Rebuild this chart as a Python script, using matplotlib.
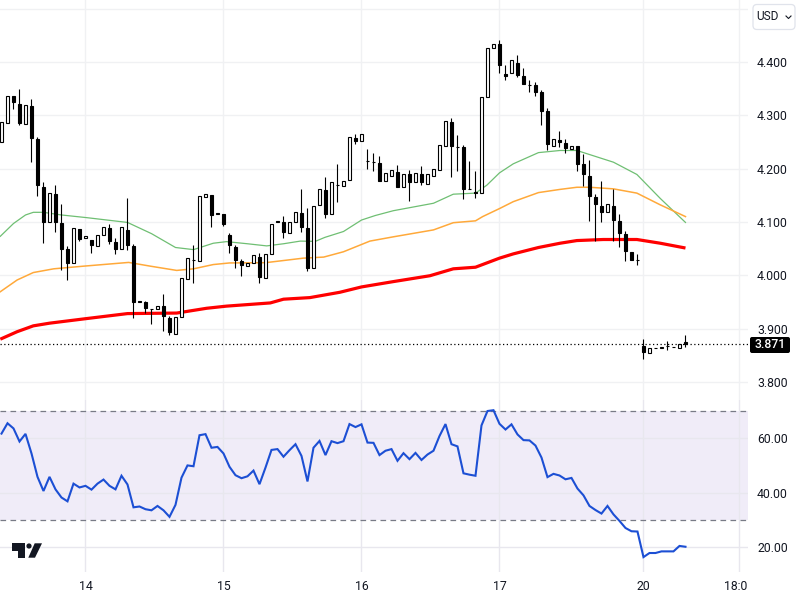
import matplotlib
matplotlib.use("Agg")
import matplotlib.pyplot as plt
from matplotlib.patches import FancyBboxPatch, Polygon, Circle
from matplotlib.transforms import Bbox, TransformedBbox

plt.rcParams['font.family'] = ['Roboto', 'DejaVu Sans']

# candles, one per bar
opens = [4.249, 4.286, 4.336, 4.322, 4.283, 4.317, 4.255, 4.165, 4.100, 4.152,
         4.098, 4.049, 4.022, 4.087, 4.069, 4.066, 4.055, 4.076, 4.089, 4.062,
         4.049, 4.085, 4.055, 3.951, 3.950, 3.937, 3.937, 3.942, 3.920, 3.890,
         3.922, 3.993, 4.028, 4.027, 4.147, 4.150, 4.116, 4.115, 4.075, 4.053,
         4.026, 4.018, 4.022, 4.035, 3.995, 4.039, 4.101, 4.100, 4.080, 4.099,
         4.117, 4.089, 4.013, 4.131, 4.160, 4.114, 4.170, 4.167, 4.178, 4.257,
         4.251, 4.215, 4.212, 4.210, 4.176, 4.187, 4.193, 4.165, 4.190, 4.174,
         4.189, 4.172, 4.187, 4.197, 4.242, 4.287, 4.241, 4.240, 4.162, 4.157,
         4.154, 4.334, 4.426, 4.433, 4.377, 4.379, 4.398, 4.374, 4.357, 4.357,
         4.344, 4.308, 4.242, 4.254, 4.248, 4.237, 4.242, 4.209, 4.186, 4.146,
         4.130, 4.118, 4.130, 4.102, 4.077, 4.043, 4.028, 3.867, 3.855, 3.863,
         3.863, 3.867, 3.865, 3.863, 3.874]
highs = [4.287, 4.336, 4.336, 4.349, 4.319, 4.331, 4.259, 4.174, 4.154, 4.169,
         4.134, 4.055, 4.088, 4.087, 4.073, 4.066, 4.075, 4.090, 4.096, 4.069,
         4.090, 4.145, 4.059, 3.951, 3.952, 3.937, 3.943, 3.964, 3.923, 3.921,
         3.994, 4.032, 4.057, 4.148, 4.152, 4.150, 4.116, 4.115, 4.080, 4.057,
         4.030, 4.022, 4.037, 4.041, 4.039, 4.097, 4.101, 4.111, 4.099, 4.119,
         4.162, 4.126, 4.129, 4.161, 4.184, 4.174, 4.208, 4.176, 4.259, 4.265,
         4.264, 4.237, 4.229, 4.223, 4.191, 4.197, 4.207, 4.189, 4.197, 4.191,
         4.205, 4.189, 4.199, 4.244, 4.289, 4.294, 4.263, 4.244, 4.214, 4.195,
         4.334, 4.426, 4.434, 4.442, 4.394, 4.403, 4.413, 4.389, 4.366, 4.362,
         4.347, 4.313, 4.255, 4.270, 4.255, 4.242, 4.242, 4.227, 4.216, 4.152,
         4.177, 4.133, 4.162, 4.115, 4.083, 4.043, 4.040, 3.881, 3.863, 3.863,
         3.866, 3.876, 3.865, 3.871, 3.888]
lows = [4.249, 4.286, 4.312, 4.281, 4.283, 4.213, 4.149, 4.061, 4.100, 4.082,
        4.010, 3.991, 4.022, 4.064, 4.069, 4.042, 4.055, 4.076, 4.059, 4.040,
        4.049, 4.047, 3.919, 3.950, 3.930, 3.908, 3.937, 3.896, 3.887, 3.890,
        3.922, 3.993, 3.986, 4.027, 4.147, 4.091, 4.114, 4.092, 4.042, 4.014,
        3.998, 4.018, 4.022, 3.986, 3.995, 4.039, 4.099, 4.070, 4.080, 4.099,
        4.082, 4.008, 4.013, 4.131, 4.108, 4.114, 4.137, 4.167, 4.178, 4.246,
        4.251, 4.200, 4.195, 4.177, 4.176, 4.187, 4.166, 4.165, 4.140, 4.174,
        4.170, 4.172, 4.187, 4.197, 4.242, 4.185, 4.196, 4.143, 4.162, 4.145,
        4.154, 4.334, 4.426, 4.379, 4.366, 4.379, 4.372, 4.359, 4.344, 4.337,
        4.282, 4.234, 4.242, 4.240, 4.230, 4.237, 4.196, 4.167, 4.102, 4.065,
        4.100, 4.118, 4.065, 4.052, 4.027, 4.029, 4.020, 3.843, 3.855, 3.863,
        3.863, 3.860, 3.865, 3.863, 3.866]
closes = [4.287, 4.336, 4.325, 4.286, 4.319, 4.257, 4.169, 4.100, 4.154, 4.100,
          4.049, 4.023, 4.088, 4.068, 4.073, 4.057, 4.075, 4.090, 4.064, 4.049,
          4.090, 4.057, 3.950, 3.950, 3.938, 3.937, 3.943, 3.923, 3.893, 3.921,
          3.994, 4.032, 4.028, 4.148, 4.152, 4.113, 4.114, 4.097, 4.057, 4.029,
          4.019, 4.022, 4.037, 3.997, 4.039, 4.097, 4.099, 4.082, 4.099, 4.119,
          4.090, 4.013, 4.129, 4.161, 4.115, 4.174, 4.170, 4.176, 4.259, 4.252,
          4.264, 4.215, 4.212, 4.177, 4.191, 4.197, 4.166, 4.189, 4.174, 4.191,
          4.175, 4.189, 4.199, 4.244, 4.289, 4.242, 4.241, 4.162, 4.162, 4.155,
          4.334, 4.426, 4.434, 4.395, 4.374, 4.403, 4.376, 4.359, 4.357, 4.344,
          4.309, 4.247, 4.255, 4.250, 4.239, 4.242, 4.209, 4.189, 4.149, 4.134,
          4.119, 4.133, 4.104, 4.080, 4.046, 4.029, 4.028, 3.856, 3.863, 3.863,
          3.866, 3.867, 3.865, 3.871, 3.871]

# moving averages, read at their corners (bar number, price)
green_x = [-0.2, 2, 4, 5.3, 7, 10, 14.2, 21, 25, 29, 32, 35.3, 37.5, 41, 44.2, 47, 49.8,
           52.3, 53.9, 57, 60, 62.3, 65.3, 72, 75.3, 79, 80.9, 83, 85.3, 89.5, 93.1,
           95.9, 102, 105.9, 109.8, 114]
green_y = [4.073, 4.097, 4.113, 4.118, 4.118, 4.113, 4.108, 4.099, 4.078, 4.052, 4.048,
           4.060, 4.063, 4.059, 4.055, 4.059, 4.064, 4.0635, 4.071, 4.082, 4.1035,
           4.112, 4.121, 4.135, 4.152, 4.154, 4.169, 4.192, 4.209, 4.230, 4.234,
           4.234, 4.212, 4.189, 4.144, 4.099]
orange_x = [-0.2, 2.6, 5.3, 8.7, 13.7, 21.2, 24.8, 29.2, 32, 35.3, 38, 44, 50.3, 53.7,
            57, 61.4, 65.3, 72, 75.3, 79, 80.2, 83, 85.3, 89.5, 93.1, 95.9, 98, 102,
            105.9, 109.8, 114]
orange_y = [3.969, 3.991, 4.005, 4.012, 4.017, 4.024, 4.017, 4.009, 4.012, 4.020, 4.023,
            4.0235, 4.032, 4.034, 4.044, 4.064, 4.072, 4.085, 4.0985, 4.102, 4.110,
            4.125, 4.138, 4.155, 4.161, 4.165, 4.165, 4.162, 4.154, 4.132, 4.110]
red_x = [-0.2, 2.6, 5.3, 8, 13.7, 21, 29.2, 34.2, 37.5, 44.8, 47, 51.4, 56.4, 60, 65.3,
         71.4, 75.3, 79, 83, 85.3, 89.5, 93.1, 95.9, 100.3, 105.9, 109.8, 114]
red_y = [3.880, 3.894, 3.905, 3.910, 3.918, 3.928, 3.929, 3.938, 3.942, 3.948, 3.955,
         3.958, 3.968, 3.978, 3.988, 3.999, 4.012, 4.015, 4.032, 4.040, 4.052, 4.060,
         4.065, 4.067, 4.067, 4.060, 4.051]

# RSI per bar
rsi = [61.8, 65.6, 63.7, 58.9, 61.7, 54.5, 45.9, 40.7, 45.9, 41.3,
       38.3, 36.9, 43.4, 42.0, 42.6, 41.2, 43.4, 44.9, 42.6, 41.3,
       46.3, 43.1, 34.7, 35.0, 34.0, 33.6, 35.2, 33.6, 31.2, 35.6,
       45.6, 50.1, 49.8, 61.2, 61.6, 56.6, 56.9, 54.5, 49.6, 46.5,
       45.4, 46.1, 48.2, 43.2, 49.3, 55.8, 56.1, 53.3, 55.7, 57.9,
       53.6, 44.2, 56.6, 59.1, 53.9, 59.0, 58.3, 59.0, 65.3, 64.2,
       65.2, 58.5, 58.4, 53.9, 55.5, 56.1, 51.8, 54.6, 52.4, 54.7,
       52.1, 54.1, 55.5, 60.9, 65.3, 57.9, 57.1, 47.2, 46.7, 46.3,
       64.8, 70.1, 70.4, 65.4, 63.3, 65.2, 61.5, 59.4, 59.3, 57.4,
       53.0, 45.8, 47.0, 46.4, 45.0, 45.5, 41.6, 39.1, 35.2, 33.7,
       32.4, 35.2, 32.1, 29.7, 27.1, 25.9, 25.8, 16.4, 17.9, 17.9,
       18.5, 18.5, 18.5, 20.5, 20.2]

time_ticks = [14, 37, 60, 83, 107, 123]
time_labels = ["14", "15", "16", "17", "20", "18:00"]
price_ticks = [3.8, 3.9, 4.0, 4.1, 4.2, 4.3, 4.4, 4.5]
price_labels = ["3.800", "3.900", "4.000", "4.100", "4.200", "4.300", "4.400", ""]
rsi_ticks = [20, 40, 60]
rsi_labels = ["20.00", "40.00", "60.00"]
last_price = 3.871

TEXT = "#131722"
GRID = "#f0f1f3"

fig = plt.figure(figsize=(8, 6), dpi=100)
ax = fig.add_axes([0, 1 - 400 / 600, 748 / 800, 400 / 600])
ax2 = fig.add_axes([0, 1 - 572 / 600, 748 / 800, 172 / 600])

# Candles
bars = range(len(opens))
ax.vlines(bars, lows, highs, color="black", lw=0.8, zorder=4)
for i in bars:
    up = closes[i] > opens[i]
    ax.bar(i, closes[i] - opens[i], bottom=opens[i], width=0.62,
           facecolor="white" if up else "black", edgecolor="black", lw=0.8, zorder=5)

# Moving averages
ax.plot(green_x, green_y, color="#6fbf73", lw=0.9, zorder=3)
ax.plot(orange_x, orange_y, color="#ffa93a", lw=1.1, zorder=3)
ax.plot(red_x, red_y, color="#ff0000", lw=2.3, zorder=3, solid_capstyle="butt")
ax.axhline(last_price, color="black", lw=0.9, ls=(0, (1, 2)), zorder=6)

ax.set_xlim(-0.25, 124.42)
ax.set_ylim(3.7659, 4.5163)
ax.set_yticks(price_ticks)
ax.set_yticklabels(price_labels)

# RSI pane
ax2.axhspan(30, 70, color="#f0ecf8", lw=0, zorder=0.5)
ax2.axhline(70, color="#787b86", lw=0.9, ls=(0, (4.5, 3.5)), zorder=2)
ax2.axhline(30, color="#787b86", lw=0.9, ls=(0, (4.5, 3.5)), zorder=2)
ax2.plot(bars, rsi, color="#1c4fd4", lw=1.5, zorder=3, solid_joinstyle="miter")
ax2.set_xlim(-0.25, 124.42)
ax2.set_ylim(10.92, 74.15)
ax2.set_yticks(rsi_ticks)
ax2.set_yticklabels(rsi_labels)

for a in (ax, ax2):
    for s in a.spines.values():
        s.set_visible(False)
    a.patch.set_alpha(0)
    a.set_xticks(time_ticks)
    a.grid(True, color=GRID, lw=1.0, zorder=1)
    a.set_axisbelow(True)
    a.yaxis.tick_right()
    a.tick_params(axis="y", length=0, pad=6.5, labelsize=8.8, labelcolor=TEXT)
    for lab in a.get_yticklabels():
        lab.set_ha("left")
ax2.grid(True, color="#e8e7ee", lw=1.0, zorder=1)
ax.tick_params(axis="x", length=0, labelbottom=False)
ax2.set_xticklabels(time_labels)
ax2.tick_params(axis="x", length=0, pad=5.5, labelsize=8.8, labelcolor=TEXT)

# the last time label gets cut at the edge of the chart area
clip = TransformedBbox(Bbox([[0, 0], [748 / 800, 1]]), fig.transFigure)
for lab in ax2.get_xticklabels():
    lab.set_clip_box(clip)
    lab.set_clip_on(True)

# Overlay in pixels for the button, price tag and logo
over = fig.add_axes([0, 0, 1, 1])
over.set_xlim(0, 800)
over.set_ylim(600, 0)
over.axis("off")
over.patch.set_alpha(0)

over.add_patch(FancyBboxPatch((756, 7.5), 36, 19, boxstyle="round,pad=3,rounding_size=4",
                              fc="white", ec="#e0e3eb", lw=0.9))
over.text(756.5, 17, "USD", fontsize=8.6, color=TEXT, va="center", ha="left")
over.plot([786, 788.5, 791], [16, 18.5, 16], color=TEXT, lw=0.8)

over.add_patch(FancyBboxPatch((752, 339), 36, 12, boxstyle="round,pad=2,rounding_size=2",
                              fc="black", ec="black", lw=0))
over.text(770, 345, "%.3f" % last_price, fontsize=8.8, color="white", va="center",
          ha="center", fontweight="medium")

# TradingView logo
logo = "#131722"
over.add_patch(Polygon([(12, 543.3), (25, 543.3), (25, 557.7), (17.7, 557.7), (17.7, 550.7), (12, 550.7)],
                       fc=logo, ec="none"))
over.add_patch(Circle((29, 546), 2.6, fc=logo, ec="none"))
over.add_patch(Polygon([(34.7, 543.3), (42, 543.3), (35, 557.7), (28.3, 557.7)], fc=logo, ec="none"))

fig.savefig("out.png", dpi=100)
